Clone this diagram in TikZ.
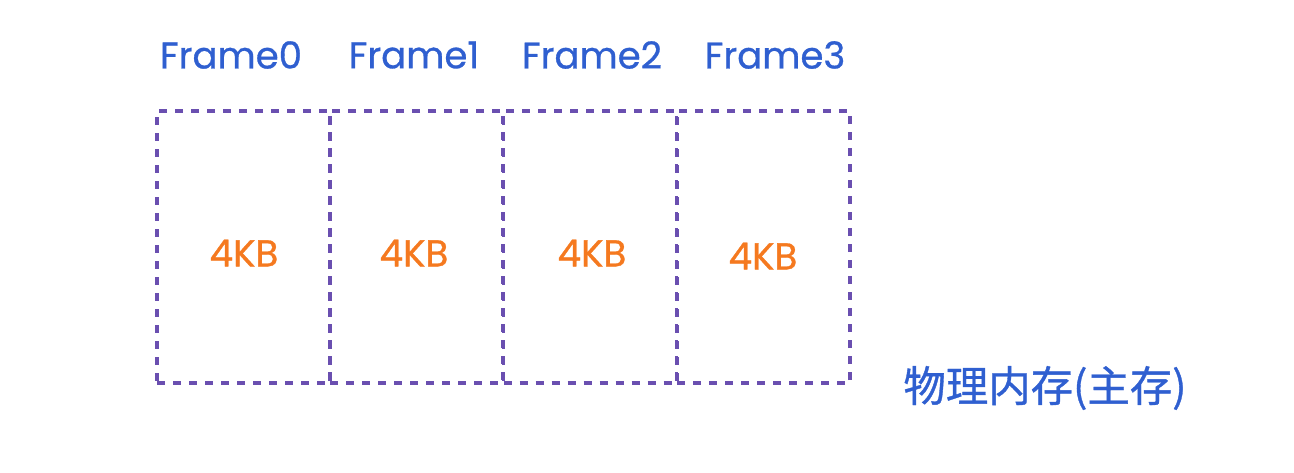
\documentclass[tikz,border=0pt]{standalone}
\usepackage{fontspec}
\setmainfont{Poppins}
\newfontfamily\lblfont[FakeBold=0.8]{Poppins}
\newfontfamily\cjk[FakeBold=0.8]{Noto Sans CJK SC}
\definecolor{boxpurple}{HTML}{6A4FB0}
\definecolor{lblblue}{HTML}{2F5FD0}
\definecolor{sizeorange}{HTML}{F5791F}
\begin{document}
\begin{tikzpicture}[x=0.75pt,y=-0.75pt,
  framebox/.style={draw=boxpurple,line width=2.6pt,dash pattern=on 6pt off 6pt,
    minimum width=129.75pt,minimum height=204pt,inner sep=0pt,outer sep=0pt},
  framelbl/.style={text=lblblue,font=\lblfont\fontsize{27.8}{32}\selectfont,inner sep=0pt},
  sizelbl/.style={text=sizeorange,font=\lblfont\fontsize{28}{32}\selectfont,inner sep=0pt}]
\useasboundingbox (0,0) rectangle (1294,472);
\node[framebox] (f0) at (243.5,247) {};
\node[framebox] (f1) at (416.5,247) {};
\node[framebox] (f2) at (590,247) {};
\node[framebox] (f3) at (763.5,247) {};
\node[framelbl] (l0) at (231,55) {Frame0};
\node[framelbl] (l1) at (414,55) {Frame1};
\node[framelbl] (l2) at (592,55) {Frame2};
\node[framelbl] (l3) at (775,55) {Frame3};
\node[sizelbl] (s0) at (244,253) {4KB};
\node[sizelbl] (s1) at (414,253) {4KB};
\node[sizelbl] (s2) at (592,253) {4KB};
\node[sizelbl] (s3) at (763,256) {4KB};
\node[text=lblblue,font=\cjk\fontsize{31.8}{36}\selectfont,inner sep=0pt] (mem) at (1045,388) {物理内存(主存)};
\end{tikzpicture}
\end{document}
